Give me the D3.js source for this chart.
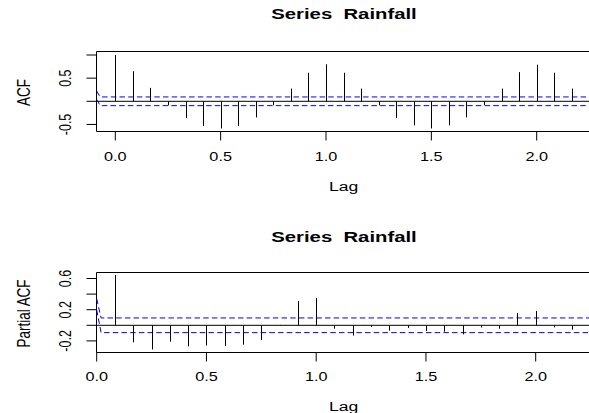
<!DOCTYPE html>
<html>
<head>
<meta charset="utf-8">
<script src="https://cdn.jsdelivr.net/npm/d3@7"></script>
<style>
  html, body { margin: 0; padding: 0; background: #fff; }
  svg { display: block; }
  text { font-family: "Liberation Sans", Arial, sans-serif; fill: #000; white-space: pre; }
</style>
</head>
<body>
<svg width="589" height="413"></svg>
<script>
// seasonal lags, in months (frequency 12)
const frequency = 12;
const acfMonths = [0, 1, 2, 3, 4, 5, 6, 7, 8, 9, 10, 11, 12, 13, 14, 15, 16, 17, 18, 19, 20, 21, 22, 23, 24, 25, 26];
const acfValues = [1.0, 0.65, 0.29, -0.087, -0.362, -0.536, -0.587, -0.536, -0.348, -0.087, 0.275, 0.616, 0.80,
  0.616, 0.275, -0.087, -0.362, -0.52, -0.587, -0.52, -0.348, -0.08, 0.275, 0.63, 0.79, 0.616, 0.275];

const pacfMonths = [1, 2, 3, 4, 5, 6, 7, 8, 9, 10, 11, 12, 13, 14, 15, 16, 17, 18, 19, 20, 21, 22, 23, 24, 25, 26];
const pacfValues = [0.645, -0.218, -0.31, -0.21, -0.27, -0.26, -0.265, -0.248, -0.188, 0.005, 0.312, 0.35,
  -0.043, -0.132, -0.02, -0.068, -0.034, -0.073, -0.081, -0.115, -0.03, -0.043, 0.158, 0.184, -0.026, -0.056];

// blue confidence bounds as drawn (lag, value)
const acfCiUpper = [[-0.088, 0.22], [-0.072, 0.094], [2.3, 0.094]];
const acfCiLower = [[-0.088, 0.04], [-0.072, -0.094], [2.3, -0.094]];
const pacfCiUpper = [[0, 0.34], [0.02, 0.094], [2.3, 0.094]];
const pacfCiLower = [[0, 0.197], [0.02, -0.094], [2.3, -0.094]];

const xTicks = [0, 0.5, 1, 1.5, 2];
const acfYTicks = [-0.5, 0, 0.5, 1];
const acfYLabels = [-0.5, 0.5];
const pacfYTicks = [-0.2, 0, 0.2, 0.4, 0.6];
const pacfYLabels = [-0.2, 0.2, 0.6];

const svg = d3.select("svg");
const sx = 1.3; // the picture is stretched sideways

const txt = (x, y, s, size, opts = {}) => {
  const t = svg.append("text")
    .attr("transform", `translate(${x},${y}) scale(${opts.sx || sx},1)` + (opts.rotate ? " rotate(-90)" : ""))
    .attr("text-anchor", "middle")
    .attr("dominant-baseline", "central")
    .attr("xml:space", "preserve")
    .style("font-size", size + "px")
    .text(s);
  if (opts.bold) t.style("font-weight", "bold");
  return t;
};

const fmt = v => v.toFixed(1);

const panel = (cfg) => {
  const x = d3.scaleLinear().domain([0, 2]).range(cfg.xRange);
  const y = d3.scaleLinear().domain([0, cfg.yRef]).range([cfg.zeroY, cfg.refY]);
  const left = cfg.left, right = 600, top = cfg.top, bottom = cfg.bottom;

  const g = svg.append("g");

  // box
  g.append("path")
    .attr("d", `M${right},${top}H${left}V${bottom}H${right}`)
    .attr("fill", "none").attr("stroke", "#000").attr("stroke-width", 1);

  // zero line
  g.append("line")
    .attr("x1", left).attr("x2", right)
    .attr("y1", y(0)).attr("y2", y(0))
    .attr("stroke", "#000");

  // ci lines
  const line = d3.line().x(d => x(d[0])).y(d => y(d[1]));
  [cfg.ciU, cfg.ciL].forEach(ci => {
    g.append("path").attr("d", line(ci))
      .attr("fill", "none").attr("stroke", "#0000ff").attr("stroke-width", 1)
      .attr("stroke-dasharray", "5.5,3.2");
  });

  // spikes
  g.append("g").selectAll("line")
    .data(cfg.months.map((m, i) => ({ lag: m / frequency, v: cfg.values[i] })))
    .enter().append("line")
    .attr("x1", d => Math.round(x(d.lag)) + 0.5).attr("x2", d => Math.round(x(d.lag)) + 0.5)
    .attr("y1", y(0)).attr("y2", d => y(d.v))
    .attr("stroke", "#000").attr("stroke-width", 1);

  // x axis ticks
  g.append("g").selectAll("line").data(xTicks).enter().append("line")
    .attr("x1", d => x(d)).attr("x2", d => x(d))
    .attr("y1", bottom).attr("y2", bottom + 9)
    .attr("stroke", "#000");
  xTicks.forEach(t => txt(x(t), cfg.xLabelY, fmt(t), 12.5));

  // y axis ticks
  g.append("g").selectAll("line").data(cfg.yTicks).enter().append("line")
    .attr("x1", left - 10).attr("x2", left)
    .attr("y1", d => y(d)).attr("y2", d => y(d))
    .attr("stroke", "#000");
  cfg.yLabels.forEach(t => txt(65.5, y(t), fmt(t), 12.5, { rotate: true }));

  txt(343.5, cfg.lagY, "Lag", 13.5);
  txt(23.5, (top + bottom) / 2 + 1, cfg.yTitle, 13.5, { rotate: true });
  txt(344, cfg.titleY, "Series  Rainfall", 14.5, { bold: true, sx: 1.4 });
};

panel({
  months: acfMonths, values: acfValues, ciU: acfCiUpper, ciL: acfCiLower,
  xRange: [115.3, 536.7], zeroY: 101.3, refY: 55, yRef: 1,
  left: 96.5, top: 51.5, bottom: 131.5,
  yTicks: acfYTicks, yLabels: acfYLabels, yTitle: "ACF",
  xLabelY: 156.3, lagY: 186.7, titleY: 14.5
});

panel({
  months: pacfMonths, values: pacfValues, ciU: pacfCiUpper, ciL: pacfCiLower,
  xRange: [96.7, 535.7], zeroY: 325.3, refY: 278.5, yRef: 0.6,
  left: 96.5, top: 272.5, bottom: 352.5,
  yTicks: pacfYTicks, yLabels: pacfYLabels, yTitle: "Partial ACF",
  xLabelY: 376.2, lagY: 406.5, titleY: 236.7
});
</script>
</body>
</html>
